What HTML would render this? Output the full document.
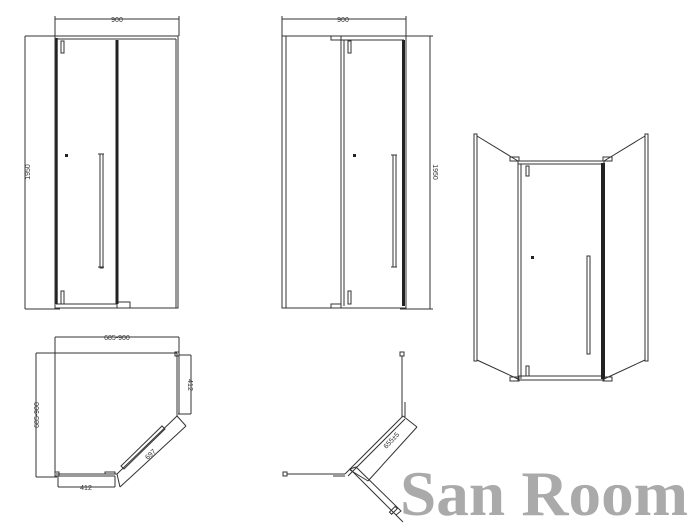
<!DOCTYPE html>
<html><head><meta charset="utf-8"><style>
html,body{margin:0;padding:0;background:#fff;}
svg{display:block;}
text{font-family:"Liberation Sans",sans-serif;font-size:7px;fill:#333;}
</style></head><body>
<svg width="697" height="529" viewBox="0 0 697 529" xmlns="http://www.w3.org/2000/svg">
<g fill="none" stroke="#333" stroke-width="1">
<line x1="55" y1="19" x2="179" y2="19"/>
<line x1="55" y1="16" x2="55" y2="36"/><line x1="179" y1="16" x2="179" y2="36"/>
<line x1="25" y1="36" x2="60" y2="36"/><line x1="25" y1="309" x2="60" y2="309"/>
<line x1="25" y1="36" x2="25" y2="309"/>
<rect x="55" y="36" width="123" height="272"/>
<line x1="56" y1="39" x2="176" y2="39"/>
<line x1="176" y1="39" x2="176" y2="308"/>
<line x1="56" y1="304" x2="117" y2="304"/>
<rect x="117" y="302" width="13" height="6"/>
<rect x="61" y="41" width="3" height="12"/><rect x="61" y="291" width="3" height="13"/>
<rect x="100" y="154" width="3" height="114"/>
<line x1="98" y1="154" x2="104" y2="154"/><line x1="98" y1="267" x2="104" y2="267"/>
</g>
<rect x="55.5" y="38" width="2.2" height="266" fill="#222"/>
<rect x="115.5" y="40" width="3" height="264" fill="#222"/>
<rect x="65" y="154" width="3" height="3" fill="#222"/>
<text x="117" y="22" text-anchor="middle">900</text>
<text transform="translate(30,172) rotate(-90)" text-anchor="middle">1950</text>

<g fill="none" stroke="#333" stroke-width="1">
<line x1="282" y1="19" x2="406" y2="19"/>
<line x1="282" y1="16" x2="282" y2="36"/><line x1="406" y1="16" x2="406" y2="36"/>
<line x1="400" y1="36" x2="433" y2="36"/><line x1="400" y1="309" x2="433" y2="309"/>
<line x1="430" y1="36" x2="430" y2="309"/>
<rect x="282" y="36" width="124" height="272"/>
<line x1="286" y1="36" x2="286" y2="308"/>
<line x1="341" y1="40" x2="341" y2="306"/><line x1="344" y1="40" x2="344" y2="306"/>
<line x1="341" y1="40" x2="404" y2="40"/>
<rect x="331" y="36" width="10" height="4"/><rect x="331" y="304" width="10" height="4"/>
<rect x="348" y="41" width="3" height="12"/><rect x="348" y="291" width="3" height="13"/>
<rect x="393" y="155" width="3" height="112"/>
<line x1="391" y1="155" x2="397" y2="155"/><line x1="391" y1="267" x2="397" y2="267"/>
</g>
<rect x="402" y="40" width="3" height="266" fill="#222"/>
<rect x="353" y="154" width="3" height="3" fill="#222"/>
<text x="343" y="22" text-anchor="middle">900</text>
<text transform="translate(433,172) rotate(90)" text-anchor="middle">1950</text>

<g fill="none" stroke="#333" stroke-width="1">
<rect x="474" y="134" width="3" height="227"/>
<rect x="645" y="134" width="3" height="227"/>
<line x1="477" y1="136" x2="518" y2="161"/>
<line x1="645" y1="136" x2="604" y2="161"/>
<line x1="477" y1="360" x2="518" y2="379"/>
<line x1="645" y1="360" x2="604" y2="379"/>
<rect x="518" y="161" width="86" height="219"/>
<line x1="521" y1="164" x2="521" y2="379"/>
<line x1="518" y1="164" x2="604" y2="164"/>
<line x1="518" y1="376" x2="604" y2="376"/>
<rect x="526" y="166" width="3" height="10"/><rect x="526" y="366" width="3" height="10"/>
<rect x="587" y="256" width="3" height="98"/>
<rect x="510" y="157" width="9" height="4"/><rect x="603" y="157" width="9" height="4"/>
<rect x="510" y="377" width="9" height="4"/><rect x="603" y="377" width="9" height="4"/>
</g>
<rect x="601" y="163" width="4" height="216" fill="#222"/>
<rect x="531" y="256" width="3" height="3" fill="#222"/>

<g fill="none" stroke="#333" stroke-width="1">
<line x1="55" y1="337" x2="179" y2="337"/>
<line x1="55" y1="337" x2="55" y2="476"/><line x1="179" y1="337" x2="179" y2="355"/>
<line x1="36" y1="353" x2="177" y2="353"/>
<line x1="36" y1="353" x2="36" y2="477"/><line x1="36" y1="477" x2="57" y2="477"/>
<line x1="177" y1="353" x2="177" y2="416"/><line x1="179" y1="355" x2="179" y2="414"/>
<line x1="56" y1="474" x2="117" y2="474"/><line x1="56" y1="476" x2="115" y2="476"/>
<line x1="117" y1="474" x2="177" y2="416"/>
<rect x="175" y="352" width="4" height="4"/><rect x="55" y="472" width="4" height="4"/>
<line x1="179" y1="355" x2="191" y2="355"/><line x1="191" y1="355" x2="191" y2="414"/><line x1="178" y1="414" x2="191" y2="414"/>
<line x1="58" y1="476" x2="58" y2="487"/><line x1="58" y1="487" x2="115" y2="487"/><line x1="115" y1="476" x2="115" y2="487"/>
<line x1="177" y1="416" x2="186" y2="426"/><line x1="117" y1="474" x2="120" y2="487"/>
<line x1="186" y1="426" x2="120" y2="487"/>
<polygon points="121,466 162,426 165,429 124,469"/>
<rect x="105" y="472" width="10" height="2"/>
</g>
<text x="117" y="340" text-anchor="middle">685-900</text>
<text transform="translate(39,415) rotate(-90)" text-anchor="middle">685-900</text>
<text transform="translate(188,385) rotate(90)" text-anchor="middle">412</text>
<text x="86" y="490" text-anchor="middle">412</text>
<text transform="translate(152,456) rotate(-43)" text-anchor="middle">697</text>

<g fill="none" stroke="#333" stroke-width="1">
<rect x="400" y="352" width="4" height="4"/>
<line x1="402" y1="356" x2="402" y2="417"/><line x1="405" y1="402" x2="405" y2="417"/>
<rect x="283" y="472" width="4" height="4"/>
<line x1="287" y1="474" x2="345" y2="474"/><line x1="333" y1="476" x2="345" y2="476"/>
<line x1="345" y1="474" x2="403" y2="416"/><line x1="348" y1="476" x2="405" y2="419"/>
<line x1="403" y1="416" x2="417" y2="427"/><line x1="417" y1="427" x2="368" y2="481"/>
<line x1="350" y1="470" x2="368" y2="481"/>
<polygon points="350,469 356,467 401,511 396,515"/>
<line x1="396" y1="515" x2="403" y2="522"/>
<rect x="389" y="509" width="8" height="3" transform="rotate(-45 393 510)"/>
</g>
<text transform="translate(393,442) rotate(-47)" text-anchor="middle">655±5</text>

<text x="400" y="515" textLength="288" lengthAdjust="spacingAndGlyphs" style="font-family:'Liberation Serif',serif;font-weight:bold;font-size:64px;fill:#aaa;">San Room</text>
</svg>
</body></html>
